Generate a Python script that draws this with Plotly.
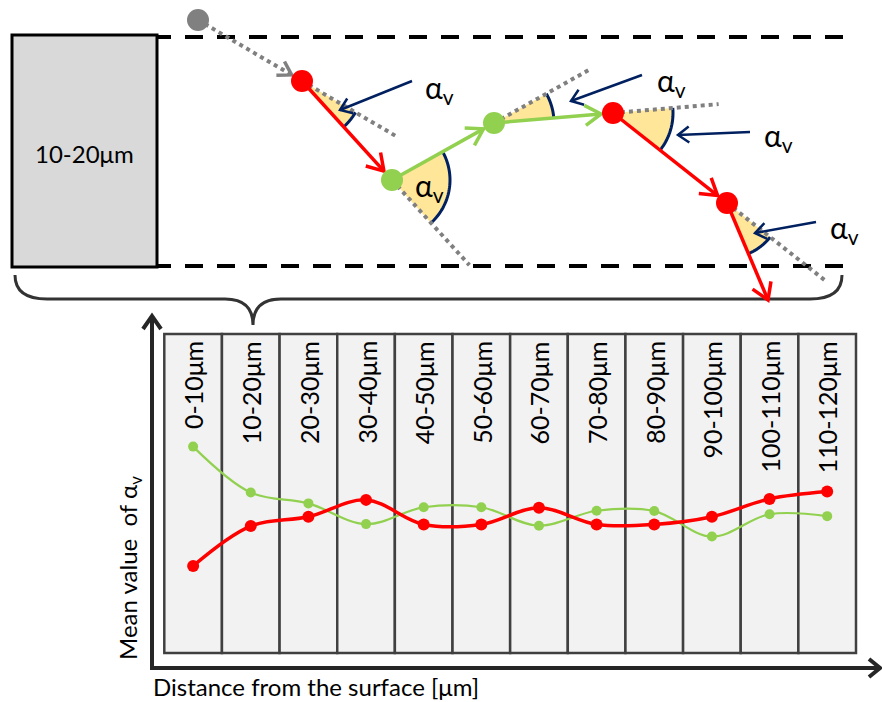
import math
import plotly.graph_objects as go

# ---------------- chart data ----------------
bins = ["0-10μm", "10-20μm", "20-30μm", "30-40μm", "40-50μm", "50-60μm",
        "60-70μm", "70-80μm", "80-90μm", "90-100μm", "100-110μm", "110-120μm"]
alpha_green = [64.7, 50.3, 46.9, 40.4, 45.7, 45.7, 39.9, 44.6, 44.5, 36.5, 43.5, 42.9]
alpha_red = [27.3, 39.8, 42.7, 48.0, 40.3, 40.3, 45.5, 40.3, 40.3, 42.7, 48.3, 50.6]
cell_top = 100
y_title = "Mean value  of α<sub>v</sub>"
x_title = "Distance from the surface [μm]"
box_label = "10-20μm"

# ---------------- schematic data (pixel space of the sketch) ----------------
node_x = [198, 302, 392, 494, 613, 727, 768]
node_y = [20, 81, 180, 123, 113, 203, 300]
node_color = ["#808080", "#ff0000", "#92d050", "#92d050", "#ff0000", "#ff0000", None]
ext_len = [109, 115, 112, 106, 124]          # dotted continuation at nodes 1..5
wedge_r = [62, 58, 60, 60, 55]               # angle wedge radius at nodes 1..5
ptr_x0 = [412, 642, 750, 816]
ptr_y0 = [81, 75, 132, 222]
ptr_x1 = [340, 571, 678, 755]
ptr_y1 = [110, 101, 135, 233]
alpha_x = [423, 413, 655, 762, 828]
alpha_y = [85, 183, 78, 133, 225]

FONT = "Lato, 'Open Sans', sans-serif"
W, H = 882, 702
NAVY = "#002060"

fig = go.Figure()
shapes = []
annotations = []

# ---------- chart ----------
xs = list(range(len(bins)))
for i in xs:
    shapes.append(dict(type="rect", xref="x", yref="y", x0=i - 0.5, x1=i + 0.5, y0=0, y1=cell_top,
                       layer="below", fillcolor="#f2f2f2", line=dict(color="#404040", width=2.5)))
fig.add_trace(go.Scatter(x=xs, y=alpha_green, mode="lines+markers",
                         line=dict(color="#92d050", width=2.2, shape="spline", smoothing=1),
                         marker=dict(size=10, color="#92d050"), showlegend=False))
fig.add_trace(go.Scatter(x=xs, y=alpha_red, mode="lines+markers",
                         line=dict(color="#ff0000", width=3.5, shape="spline", smoothing=1),
                         marker=dict(size=12, color="#ff0000"), showlegend=False))
fig.add_trace(go.Scatter(x=[], y=[], xaxis="x2", yaxis="y2", showlegend=False))

for i, lab in enumerate(bins):
    annotations.append(dict(x=i, y=cell_top, xref="x", yref="y", text=lab, textangle=-90,
                            xanchor="center", yanchor="top", yshift=-5, showarrow=False,
                            font=dict(family=FONT, size=25, color="#000")))

# ---------- schematic helpers ----------
def P(pts):
    return "M " + " L ".join(f"{x:.2f},{y:.2f}" for x, y in pts)

def line_shape(pts, color, width, dash="solid", fill=None, close=False):
    path = P(pts) + (" Z" if close else "")
    d = dict(type="path", path=path, xref="x2", yref="y2", layer="above",
             line=dict(color=color, width=width, dash=dash))
    if fill:
        d["fillcolor"] = fill
    return d

def chevron(tx, ty, ux, uy, back, half):
    nx, ny = -uy, ux
    return [(tx - back * ux + half * nx, ty - back * uy + half * ny), (tx, ty),
            (tx - back * ux - half * nx, ty - back * uy - half * ny)]

def unit(x0, y0, x1, y1):
    dx, dy = x1 - x0, y1 - y0
    L = math.hypot(dx, dy)
    return dx / L, dy / L, L

# dashed band limits
for yy in (37, 266):
    shapes.append(line_shape([(153, yy), (843, yy)], "#000", 4, dash="18px,14px"))
# grey box
shapes.append(dict(type="rect", x0=12, x1=157, y0=35, y1=267, xref="x2", yref="y2",
                   layer="above", fillcolor="#d9d9d9", line=dict(color="#000", width=3)))
annotations.append(dict(x=84, y=153, xref="x2", yref="y2", text=box_label, showarrow=False,
                        font=dict(family=FONT, size=24, color="#000")))
# brace
shapes.append(dict(type="path", xref="x2", yref="y2", layer="above",
                   path="M 15,275 Q 15,299 47,299 L 225,299 Q 253,299 253,325 "
                        "Q 253,299 281,299 L 810,299 Q 842,299 842,275",
                   line=dict(color="#333", width=3)))

# wedges + arcs
for k in range(1, 6):
    uxi, uyi, _ = unit(node_x[k - 1], node_y[k - 1], node_x[k], node_y[k])
    uxo, uyo, _ = unit(node_x[k], node_y[k], node_x[k + 1], node_y[k + 1])
    a0 = math.atan2(uyi, uxi)
    a1 = math.atan2(uyo, uxo)
    da = (a1 - a0 + math.pi) % (2 * math.pi) - math.pi
    r = wedge_r[k - 1]
    arc = [(node_x[k] + r * math.cos(a0 + da * t / 40), node_y[k] + r * math.sin(a0 + da * t / 40))
           for t in range(41)]
    shapes.append(line_shape([(node_x[k], node_y[k])] + arc, "rgba(0,0,0,0)", 0,
                             fill="#ffe699", close=True))
    shapes.append(line_shape(arc, NAVY, 3))

# dotted grey: first segment + continuations
shapes.append(line_shape([(node_x[0], node_y[0]), (node_x[1], node_y[1])], "#808080", 4, dash="dot"))
for k in range(1, 6):
    ux, uy, _ = unit(node_x[k - 1], node_y[k - 1], node_x[k], node_y[k])
    e = ext_len[k - 1]
    shapes.append(line_shape([(node_x[k], node_y[k]), (node_x[k] + e * ux, node_y[k] + e * uy)],
                             "#808080", 4, dash="dot"))

# segment arrows
for k in range(6):
    ux, uy, L = unit(node_x[k], node_y[k], node_x[k + 1], node_y[k + 1])
    stop = 12 if node_color[k + 1] else 0
    tx, ty = node_x[k + 1] - stop * ux, node_y[k + 1] - stop * uy
    col = node_color[k]
    if k == 0:
        shapes.append(line_shape(chevron(tx, ty, ux, uy, 13, 8), col, 3.5))
    else:
        shapes.append(line_shape([(node_x[k], node_y[k]), (tx, ty)], col, 3.5))
        shapes.append(line_shape(chevron(tx, ty, ux, uy, 16, 10), col, 3.5))

# navy pointers
for x0, y0, x1, y1 in zip(ptr_x0, ptr_y0, ptr_x1, ptr_y1):
    ux, uy, L = unit(x0, y0, x1, y1)
    shapes.append(line_shape([(x0, y0), (x1, y1)], NAVY, 2.5))
    shapes.append(line_shape(chevron(x1, y1, ux, uy, 11, 8), NAVY, 2.5))
for ax_, ay_ in zip(alpha_x, alpha_y):
    annotations.append(dict(x=ax_, y=ay_, xref="x2", yref="y2", text="α<sub>v</sub>",
                            xanchor="left", yanchor="middle", yshift=-4, showarrow=False,
                            font=dict(family=FONT, size=30, color="#000")))

# dots
for cx, cy, col in zip(node_x, node_y, node_color):
    if col:
        shapes.append(dict(type="circle", xref="x2", yref="y2", layer="above",
                           x0=cx - 11, x1=cx + 11, y0=cy - 11, y1=cy + 11,
                           fillcolor=col, line=dict(width=0)))

# chart axes arrows
shapes.append(line_shape([(152, 316), (152, 668), (880, 668)], "#262626", 4))
shapes.append(line_shape([(143, 329), (152, 316), (161, 329)], "#262626", 4))
shapes.append(line_shape([(869, 659), (880, 668), (869, 677)], "#262626", 4))

annotations.append(dict(x=129, y=662, xref="x2", yref="y2", text=y_title, textangle=-90,
                        xanchor="center", yanchor="bottom", showarrow=False,
                        font=dict(family=FONT, size=24, color="#000")))
annotations.append(dict(x=151, y=686, xref="x2", yref="y2", text=x_title,
                        xanchor="left", yanchor="middle", showarrow=False,
                        font=dict(family=FONT, size=24, color="#000")))

# domain of the data chart
cx0, cx1, cy0, cy1 = 164.3, 856.0, 334.0, 653.0
ppx = (cx1 - cx0) / len(bins)
ppy = (cy1 - cy0) / cell_top
xr = [-0.55, len(bins) - 0.45]
yr = [-2, cell_top + 2]
dx0 = cx0 - 0.05 * ppx
dx1 = cx1 + 0.05 * ppx
dy_top = cy0 - 2 * ppy
dy_bot = cy1 + 2 * ppy

fig.update_layout(
    width=W, height=H, margin=dict(l=0, r=0, t=0, b=0),
    paper_bgcolor="white", plot_bgcolor="rgba(0,0,0,0)",
    showlegend=False,
    xaxis=dict(domain=[dx0 / W, dx1 / W], range=xr, visible=False, fixedrange=True),
    yaxis=dict(domain=[1 - dy_bot / H, 1 - dy_top / H], range=yr, visible=False, fixedrange=True),
    xaxis2=dict(domain=[0, 1], range=[0, W], visible=False, anchor="y2", fixedrange=True),
    yaxis2=dict(domain=[0, 1], range=[H, 0], visible=False, anchor="x2", fixedrange=True),
    shapes=shapes, annotations=annotations,
)
fig.write_html("out.html", config={"displayModeBar": False},
               post_script="document.body.style.margin='0';document.body.style.overflow='hidden';")
